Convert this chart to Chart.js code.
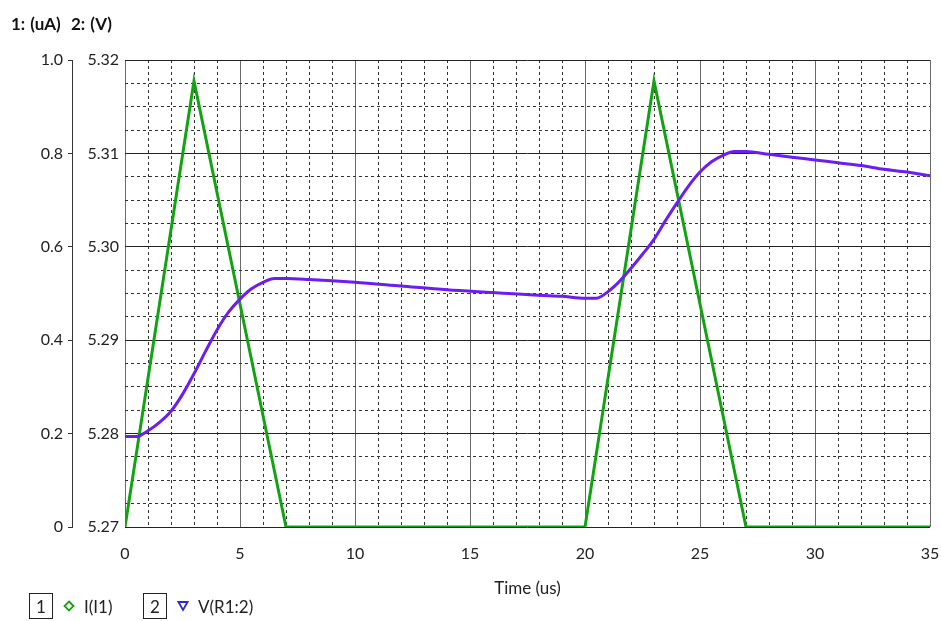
<!DOCTYPE html>
<html>
<head>
<meta charset="utf-8">
<script src="https://cdn.jsdelivr.net/npm/chart.js@4.4.1/dist/chart.umd.min.js"></script>
<style>
html, body { margin: 0; padding: 0; background: #fff; }
#wrap { position: relative; width: 941px; height: 621px; font-family: Lato, "Liberation Sans", sans-serif; color: #222; }
#wrap canvas { position: absolute; left: 0; top: 0; }
.hdr { position: absolute; left: 11px; top: 13px; font-weight: bold; font-size: 17px; color: #111; word-spacing: 1px; }
.leg { position: absolute; top: 593px; height: 26px; display: flex; align-items: center; font-size: 17px; }
.box { width: 22px; height: 24px; border: 1px solid #222; display: flex; align-items: center; justify-content: center; margin-right: 10px; }
.leg svg { margin-right: 9px; }
</style>
</head>
<body>
<div id="wrap">
  <canvas id="c" width="941" height="621"></canvas>
  <div class="hdr">1: (uA)&nbsp;&nbsp;2: (V)</div>
  <div class="leg" style="left:29px"><div class="box">1</div>
    <svg width="12" height="12"><path d="M6 1.5 L10.5 6 L6 10.5 L1.5 6 Z" fill="none" stroke="#16a016" stroke-width="1.8"/></svg>I(I1)</div>
  <div class="leg" style="left:143px"><div class="box">2</div>
    <svg width="12" height="12"><path d="M1.5 2 L10.5 2 L6 10 Z" fill="none" stroke="#2a2ad0" stroke-width="1.8"/></svg>V(R1:2)</div>
</div>
<script>
// time axis (us)
const xTicks = [0, 5, 10, 15, 20, 25, 30, 35];
// current I(I1), uA
const iTime = [0, 3, 7, 20, 23, 27, 35];
const iVals = [0, 0.955, 0, 0, 0.955, 0, 0];
const iTicks = [0, 0.2, 0.4, 0.6, 0.8, 1.0];
// voltage V(R1:2), V
const vTime = [0, 0.5, 1, 1.5, 2, 2.5, 3, 3.5, 4, 4.5, 5, 5.5, 6, 6.5, 7, 8, 10, 12, 14, 16, 18, 19, 20, 20.5,
               21, 21.5, 22, 22.5, 23, 23.5, 24, 24.5, 25, 25.5, 26, 26.5, 27, 28, 29, 30, 31, 32, 33, 34, 35];
const vVals = [5.2797, 5.2797, 5.2803, 5.2812, 5.2824, 5.2842, 5.2864, 5.2888, 5.2911, 5.2930, 5.2944, 5.2955,
               5.2962, 5.2966, 5.2966, 5.2965, 5.2962, 5.2958, 5.2954, 5.2951, 5.2948, 5.2947, 5.2945, 5.2945,
               5.2952, 5.2963, 5.2977, 5.2992, 5.3008, 5.3028, 5.3047, 5.3065, 5.3080, 5.3091, 5.3098, 5.3102,
               5.3102, 5.3099, 5.3096, 5.3093, 5.3090, 5.3087, 5.3083, 5.3080, 5.3076];
const vTicks = [5.27, 5.28, 5.29, 5.30, 5.31, 5.32];

const isMajorV = v => Math.abs(v * 100 - Math.round(v * 100)) < 1e-6;
const isMajorX = v => Math.abs(v / 5 - Math.round(v / 5)) < 1e-6;
const tickFont = { family: 'Lato, "Liberation Sans", sans-serif', size: 16 };

new Chart(document.getElementById('c'), {
  type: 'line',
  data: {
    datasets: [
      {
        label: 'I(I1)', yAxisID: 'yI', order: 2,
        data: iTime.map((t, k) => ({ x: t, y: iVals[k] })),
        borderColor: '#12a212', borderWidth: 3, pointRadius: 0, tension: 0
      },
      {
        label: 'V(R1:2)', yAxisID: 'yV', order: 1,
        data: vTime.map((t, k) => ({ x: t, y: vVals[k] })),
        borderColor: '#6a1ef2', borderWidth: 3, pointRadius: 0, cubicInterpolationMode: 'monotone'
      }
    ]
  },
  options: {
    responsive: false, animation: false,
    layout: { padding: { left: 0, top: 60, right: 0, bottom: 18 } },
    plugins: { legend: { display: false }, tooltip: { enabled: false } },
    scales: {
      x: {
        type: 'linear', min: 0, max: 35,
        afterFit: s => { s.height = 76; s.paddingRight = 11; s.paddingLeft = 0; },
        ticks: {
          stepSize: 1, autoSkip: false, maxRotation: 0, padding: 17, color: '#222', font: tickFont,
          callback: v => (isMajorX(v) && xTicks.includes(Math.round(v))) ? String(Math.round(v)) : ''
        },
        grid: {
          drawTicks: false, lineWidth: 1,
          color: c => isMajorX(c.tick.value) ? '#6a6a6a' : '#333'
        },
        border: { display: false, dash: c => (c.type === 'tick' && !isMajorX(c.tick.value)) ? [3, 3] : [] },
        title: { display: true, text: 'Time (us)', color: '#222', font: { family: tickFont.family, size: 17 } }
      },
      yI: {
        position: 'left', weight: 2, min: 0, max: 1,
        afterFit: s => { s.width = 72; },
        afterBuildTicks: s => { s.ticks = iTicks.map(v => ({ value: v })); },
        ticks: { padding: 5, color: '#222', font: tickFont, callback: v => v === 0 ? '0' : v.toFixed(1) },
        grid: { drawOnChartArea: false, tickLength: 4, tickColor: '#333' },
        border: { display: true, color: '#333' }
      },
      yV: {
        position: 'left', weight: 1, min: 5.27, max: 5.32,
        afterFit: s => { s.width = 53; },
        ticks: {
          stepSize: 0.0025, autoSkip: false, padding: 6, color: '#222', font: tickFont,
          callback: v => (isMajorV(v) && vTicks.some(t => Math.abs(t - v) < 1e-6)) ? v.toFixed(2) : ''
        },
        grid: {
          drawTicks: false, lineWidth: 1,
          color: c => isMajorV(c.tick.value) ? '#222' : '#333'
        },
        border: { display: false, dash: c => (c.type === 'tick' && !isMajorV(c.tick.value)) ? [3, 3] : [] }
      }
    }
  }
});
</script>
</body>
</html>
